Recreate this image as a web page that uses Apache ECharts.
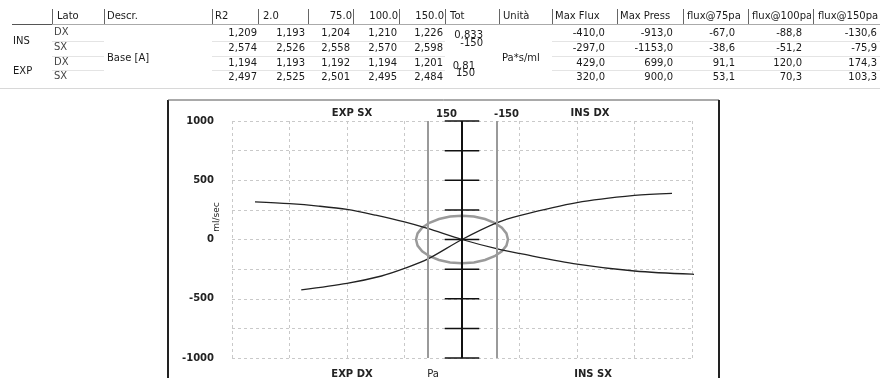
<!DOCTYPE html>
<html>
<head>
<meta charset="utf-8">
<script src="https://cdn.jsdelivr.net/npm/echarts@6/dist/echarts.min.js"></script>
<style>
  body { margin: 0; background: #fff; }
  #wrap { position: relative; width: 880px; height: 378px; overflow: hidden; background: #fff; }
  #chart { position: absolute; left: 0; top: 0; width: 880px; height: 378px; }
  #tbl { position: absolute; left: 0; top: 0; width: 880px; height: 92px; font: 10px 'DejaVu Sans', sans-serif; color: #1a1a1a; }
  #tbl div { position: absolute; white-space: nowrap; line-height: 12px; }
</style>
</head>
<body>
<div id="wrap">
  <div id="chart"></div>
  <div id="tbl"></div>
</div>
<script>
// --- table data ---
const headerLabels = ['Lato', 'Descr.', 'R2', '2.0', '75.0', '100.0', '150.0', 'Tot', 'Unità', 'Max Flux', 'Max Press', 'flux@75pa', 'flux@100pa', 'flux@150pa'];
const phases = ['INS', 'EXP'];
const sides = ['DX', 'SX', 'DX', 'SX'];
const descr = 'Base [A]';
const unit = 'Pa*s/ml';
const rValues = [
  ['1,209', '1,193', '1,204', '1,210', '1,226'],
  ['2,574', '2,526', '2,558', '2,570', '2,598'],
  ['1,194', '1,193', '1,192', '1,194', '1,201'],
  ['2,497', '2,525', '2,501', '2,495', '2,484']
];
const totValues = [['0,833', '-150'], ['0,81', '150']];
const maxFlux = ['-410,0', '-297,0', '429,0', '320,0'];
const maxPress = ['-913,0', '-1153,0', '699,0', '900,0'];
const flux75 = ['-67,0', '-38,6', '91,1', '53,1'];
const flux100 = ['-88,8', '-51,2', '120,0', '70,3'];
const flux150 = ['-130,6', '-75,9', '174,3', '103,3'];

// --- chart data: [pressure Pa, flow ml/sec] ---
const sxCurve = [[-1153, -297], [-1000, -293], [-750, -266], [-500, -208], [-250, -118], [-150, -78],
  [0, 0], [150, 93], [250, 148], [375, 205], [500, 254], [625, 282], [750, 302], [900, 318]];
const dxCurve = [[-913, 390], [-750, 372], [-500, 312], [-250, 202], [-150, 140],
  [0, 0], [150, -166], [250, -244], [350, -308], [500, -370], [699, -425]];
const refPress = [150, -150];
const paTicks = [-1000, -750, -500, -250, 0, 250, 500, 750, 1000];
const tickHalf = 75;
const refCircle = [[0, 0, 200]];

// --- table ---
const tbl = document.getElementById('tbl');
function cell(text, x, y, align, extra) {
  const d = document.createElement('div');
  d.textContent = text;
  d.style.top = (y - 6) + 'px';
  if (align === 'right') d.style.right = (880 - x) + 'px';
  else d.style.left = x + 'px';
  if (extra) Object.assign(d.style, extra);
  tbl.appendChild(d);
  return d;
}
function hline(x1, x2, y, color) {
  const d = document.createElement('div');
  Object.assign(d.style, { left: x1 + 'px', top: y + 'px', width: (x2 - x1) + 'px', height: '1px', background: color });
  tbl.appendChild(d);
}
function vline(x, y1, y2, color) {
  const d = document.createElement('div');
  Object.assign(d.style, { left: x + 'px', top: y1 + 'px', width: '1px', height: (y2 - y1) + 'px', background: color });
  tbl.appendChild(d);
}

const headerSeps = [52, 104, 212, 258, 308, 353, 399, 445, 499, 552, 617, 683, 748, 813];
headerSeps.forEach(x => vline(x, 9, 25, '#666'));
hline(12, 880, 24, '#aaa');
hline(12, 52, 24, '#555');

const headPos = [[57, 'left'], [107, 'left'], [215, 'left'], [263, 'left'], [352, 'right'], [398, 'right'], [444, 'right'],
  [450, 'left'], [503, 'left'], [555, 'left'], [620, 'left'], [687, 'left'], [752, 'left'], [818, 'left']];
headerLabels.forEach((t, i) => {
  const extra = i >= 12 ? { width: (i === 12 ? 59 : 61) + 'px', overflow: 'hidden' } : null;
  cell(t, headPos[i][0], 16, headPos[i][1], extra);
});

const rowY = [33, 48, 63, 77];
[40.5, 55.5, 70].forEach(y => { hline(52, 104, y, '#e4e4e4'); hline(212, 445, y, '#e4e4e4'); hline(552, 880, y, '#e4e4e4'); });
hline(0, 880, 88, '#d8d8d8');

cell(phases[0], 13, 40.5, 'left');
cell(phases[1], 13, 70.5, 'left');
cell(descr, 107, 58, 'left');
cell(unit, 502, 58, 'left');
sides.forEach((s, i) => cell(s, 54, rowY[i] - 1, 'left', { color: '#444' }));
const rRight = [257, 305, 350, 397, 443];
rValues.forEach((row, i) => row.forEach((v, j) => cell(v, rRight[j], rowY[i], 'right')));
const extraCols = [maxFlux, maxPress, flux75, flux100, flux150];
const extraRight = [605, 673, 735, 802, 877];
extraCols.forEach((col, j) => col.forEach((v, i) => cell(v, extraRight[j], rowY[i], 'right')));
cell(totValues[0][0], 483, 35, 'right');
cell(totValues[0][1], 483, 43, 'right');
cell(totValues[1][0], 475, 65.5, 'right');
cell(totValues[1][1], 475, 72.5, 'right');

// --- chart ---
const chart = echarts.init(document.getElementById('chart'));
const axisFont = 'DejaVu Sans';
const lbl = (text, x, y, bold, size) => ({
  type: 'text', x: x, y: y, silent: true,
  style: { text: text, align: 'center', verticalAlign: 'middle', textAlign: 'center', textVerticalAlign: 'middle',
    font: (bold ? 'bold ' : '') + (size || 10) + 'px "DejaVu Sans"', fill: '#222' }
});

chart.setOption({
  animation: false,
  backgroundColor: 'transparent',
  grid: { left: 232, right: 188, top: 121, bottom: 20, containLabel: false },
  xAxis: {
    type: 'value', min: -1000, max: 1000, interval: 250, inverse: true,
    axisLine: { show: false }, axisTick: { show: false }, axisLabel: { show: false },
    splitLine: { show: true, lineStyle: { color: '#c9c9c9', type: [3, 3], width: 1 } }
  },
  yAxis: {
    type: 'value', min: -1000, max: 1000, interval: 250,
    axisLine: { show: false }, axisTick: { show: false },
    axisLabel: {
      margin: 18, color: '#222', fontSize: 10, fontWeight: 'bold', fontFamily: axisFont,
      formatter: v => (v % 500 === 0 ? String(v) : '')
    },
    splitLine: { show: true, lineStyle: { color: '#c9c9c9', type: [3, 3], width: 1 } }
  },
  series: [
    {
      name: 'Pa', type: 'line', data: [[0, 0]], showSymbol: false, silent: true,
      markLine: {
        symbol: 'none', silent: true, animation: false,
        data: [
          { xAxis: refPress[0], lineStyle: { color: '#9a9a9a', width: 2, type: 'solid' },
            label: { show: true, position: 'end', formatter: String(refPress[0]), offset: [19, 0], distance: 2,
              color: '#222', fontSize: 10, fontWeight: 'bold', fontFamily: axisFont } },
          { xAxis: refPress[1], lineStyle: { color: '#9a9a9a', width: 2, type: 'solid' },
            label: { show: true, position: 'end', formatter: String(refPress[1]), offset: [10, 0], distance: 2,
              color: '#222', fontSize: 10, fontWeight: 'bold', fontFamily: axisFont } },
          { xAxis: 0, lineStyle: { color: '#111', width: 2, type: 'solid' }, label: { show: false } }
        ]
      }
    },
    {
      name: 'ticks', type: 'custom', silent: true, clip: false,
      data: paTicks.map(v => [0, v]),
      renderItem: (params, api) => {
        const y = api.value(1);
        const a = api.coord([-tickHalf, y]);
        const b = api.coord([tickHalf, y]);
        return { type: 'line', shape: { x1: a[0], y1: a[1], x2: b[0], y2: b[1] }, style: { stroke: '#111', lineWidth: 1.5 } };
      }
    },
    {
      name: 'circle', type: 'custom', silent: true,
      data: refCircle,
      renderItem: (params, api) => {
        const c = api.coord([api.value(0), api.value(1)]);
        const s = api.size([api.value(2), api.value(2)]);
        const rx = Math.abs(s[0]), ry = Math.abs(s[1]);
        const pts = [];
        for (let i = 0; i < 24; i++) {
          const t = i / 24 * 2 * Math.PI;
          pts.push([c[0] + rx * Math.cos(t), c[1] + ry * Math.sin(t)]);
        }
        return { type: 'polygon', shape: { points: pts }, style: { fill: 'none', stroke: '#9a9a9a', lineWidth: 2.5 } };
      }
    },
    {
      name: 'SX', type: 'line', data: sxCurve, smooth: 0.3, showSymbol: false, silent: true, clip: true,
      lineStyle: { color: '#222', width: 1.3 }
    },
    {
      name: 'DX', type: 'line', data: dxCurve, smooth: 0.3, showSymbol: false, silent: true, clip: true,
      lineStyle: { color: '#222', width: 1.3 }
    }
  ],
  graphic: [
    { type: 'line', silent: true, shape: { x1: 168, y1: 100, x2: 168, y2: 378 }, style: { stroke: '#222', lineWidth: 2 } },
    { type: 'line', silent: true, shape: { x1: 168, y1: 100, x2: 719, y2: 100 }, style: { stroke: '#555', lineWidth: 1 } },
    { type: 'line', silent: true, shape: { x1: 719, y1: 100, x2: 719, y2: 378 }, style: { stroke: '#222', lineWidth: 2 } },
    lbl('EXP SX', 352, 113, true),
    lbl('INS DX', 590, 113, true),
    lbl('EXP DX', 352, 374, true),
    lbl('INS SX', 593, 374, true),
    lbl('Pa', 433, 374, false),
    Object.assign(lbl('ml/sec', 217, 217, false, 9), { rotation: Math.PI / 2 })
  ]
});
</script>
</body>
</html>
